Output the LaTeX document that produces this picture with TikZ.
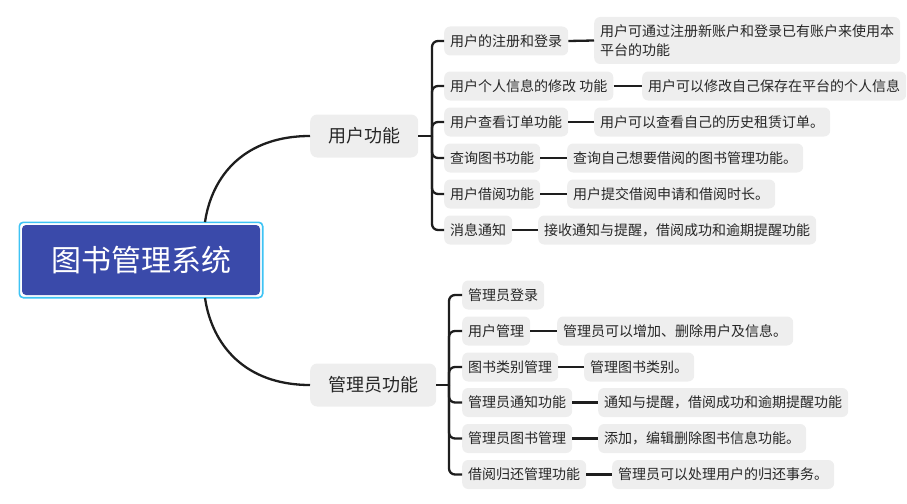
\documentclass[tikz,border=0pt]{standalone}
\usepackage{fontspec}
\setmainfont{Noto Sans CJK SC}
\newfontfamily\cjk{Noto Sans CJK SC}
\definecolor{boxgray}{HTML}{EEEEEE}
\definecolor{linedark}{HTML}{1E1E1E}
\definecolor{rootblue}{HTML}{3A4AAA}
\definecolor{rootedge}{HTML}{3EC3F4}
\tikzset{
  rootbox/.style={fill=rootblue, rounded corners=4pt, text=white, font=\cjk\fontsize{30}{34}\selectfont,
    minimum width=238pt, minimum height=70pt, inner sep=0pt},
  rootframe/.style={draw=rootedge, line width=1.6pt, rounded corners=4pt},
  lvlone/.style={fill=boxgray, rounded corners=7pt, font=\cjk\fontsize{18}{22}\selectfont,
    minimum height=43pt, inner xsep=18pt, inner ysep=0pt, anchor=west, text=black!85},
  lvltwo/.style={fill=boxgray, rounded corners=6pt, font=\cjk\fontsize{14}{18.5}\selectfont,
    minimum height=29pt, inner xsep=6pt, inner ysep=0pt, anchor=west, text=black!85},
  conn/.style={draw=linedark, line width=2.3pt},
  bracket/.style={draw=linedark, line width=2.3pt, rounded corners=6pt},
}
\begin{document}
\begin{tikzpicture}[x=1pt,y=-1pt]
\useasboundingbox (0,0) rectangle (907,503);

% root
\node[rootbox] (root) at (141,260) {图书管理系统};
\draw[rootframe] ([shift={(-2.5,2.5)}]root.south west) rectangle ([shift={(2.5,-2.5)}]root.north east);

% level one
\node[lvlone] (user) at (310,136) {用户功能};
\node[lvlone] (admin) at (310,385) {管理员功能};

\coordinate (rtop) at (205,222);
\coordinate (rbot) at (205,298);
\draw[conn] (rtop) .. controls (212,175) and (245,136) .. (user.west);
\draw[conn] (rbot) .. controls (212,345) and (245,385) .. (admin.west);

% user children
\node[lvltwo] (u1) at (444,41) {用户的注册和登录};
\node[lvltwo] (u2) at (444,86) {用户个人信息的修改 功能};
\node[lvltwo] (u3) at (444,122) {用户查看订单功能};
\node[lvltwo] (u4) at (444,158) {查询图书功能};
\node[lvltwo] (u5) at (444,194) {用户借阅功能};
\node[lvltwo] (u6) at (444,230) {消息通知};

\node[lvltwo, minimum height=47pt, align=left] (d1) at (594,40.5) {用户可通过注册新账户和登录已有账户来使用本\\平台的功能};
\node[lvltwo] (d2) at (642,86) {用户可以修改自己保存在平台的个人信息};
\node[lvltwo] (d3) at (594,122) {用户可以查看自己的历史租赁订单。};
\node[lvltwo] (d4) at (567,158) {查询自己想要借阅的图书管理功能。};
\node[lvltwo] (d5) at (567,194) {用户提交借阅申请和借阅时长。};
\node[lvltwo] (d6) at (538,230) {接收通知与提醒，借阅成功和逾期提醒功能};

\coordinate (ub) at (432,136);
\draw[conn] (user.east) -- (ub);
\foreach \i in {1,...,6} {
  \draw[bracket] (ub) |- (u\i.west);
  \draw[conn] (u\i.east) -- (d\i.west);
}

% admin children
\node[lvltwo] (a1) at (462,295) {管理员登录};
\node[lvltwo] (a2) at (462,331) {用户管理};
\node[lvltwo] (a3) at (462,367) {图书类别管理};
\node[lvltwo] (a4) at (462,402.5) {管理员通知功能};
\node[lvltwo] (a5) at (462,438.5) {管理员图书管理};
\node[lvltwo] (a6) at (462,474.5) {借阅归还管理功能};

\node[lvltwo] (e2) at (557,331) {管理员可以增加、删除用户及信息。};
\node[lvltwo] (e3) at (584,367) {管理图书类别。};
\node[lvltwo] (e4) at (598,402.5) {通知与提醒，借阅成功和逾期提醒功能};
\node[lvltwo] (e5) at (598,438.5) {添加，编辑删除图书信息功能。};
\node[lvltwo] (e6) at (612,474.5) {管理员可以处理用户的归还事务。};

\coordinate (ab) at (449,385);
\draw[conn] (admin.east) -- (ab);
\foreach \i in {1,...,6} {
  \draw[bracket] (ab) |- (a\i.west);
}
\foreach \i in {2,...,6} {
  \draw[conn] (a\i.east) -- (e\i.west);
}
\end{tikzpicture}
\end{document}
